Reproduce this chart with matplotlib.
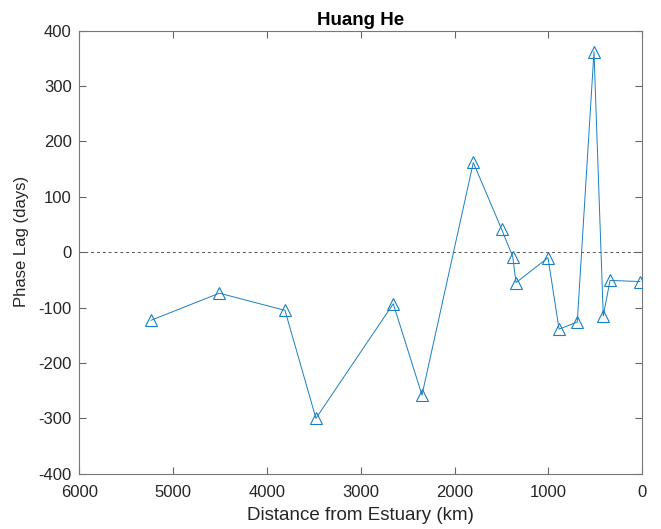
import matplotlib
matplotlib.use("Agg")
import matplotlib.pyplot as plt

plt.rcParams['font.family'] = ['Liberation Sans', 'DejaVu Sans']
plt.rcParams['axes.unicode_minus'] = False

# 河口距离 (km) 与相位滞后 (days)
distance = [5236, 4508, 3808, 3478, 2654, 2348, 1801, 1498, 1381, 1346,
            1005, 887, 693, 515, 416, 344, 25]
phase_lag = [-123, -74, -105, -300, -93, -258, 162, 41, -8, -55,
             -10, -139, -126, 362, -115, -51, -53]

x_ticks = [6000, 5000, 4000, 3000, 2000, 1000, 0]
y_ticks = [-400, -300, -200, -100, 0, 100, 200, 300, 400]

fig = plt.figure(figsize=(6.61, 5.29), dpi=100)
ax = fig.add_axes([79.3 / 661, 1 - 473.7 / 529, (642.3 - 79.3) / 661, (473.7 - 30.7) / 529])

ax.axhline(0, color='#555555', linestyle=(0, (3, 3)), linewidth=0.7, zorder=1)
ax.plot(distance, phase_lag, color='#1a7fc0', linewidth=0.7, marker='^',
        markersize=9, markerfacecolor='none', markeredgewidth=0.8, zorder=3)

ax.set_xlim(6000, 0)
ax.set_ylim(-400, 400)
ax.set_xticks(x_ticks)
ax.set_yticks(y_ticks)

ax.tick_params(direction='in', top=True, right=True, length=5, width=0.8,
               colors='#666666', labelcolor='#262626', labelsize=12)
ax.tick_params(axis='x', pad=8)
ax.tick_params(axis='y', pad=5.5)
for s in ax.spines.values():
    s.set_color('#777777')
    s.set_linewidth(0.8)

ax.set_xlabel('Distance from Estuary (km)', fontsize=13.5, color='#262626', labelpad=5)
ax.set_ylabel('Phase Lag (days)', fontsize=12, color='#262626')
ax.yaxis.set_label_coords(-0.089, 0.524)
ax.set_title('Huang He', fontsize=13.5, fontweight='bold', pad=4)

fig.savefig('out.png', dpi=100)
